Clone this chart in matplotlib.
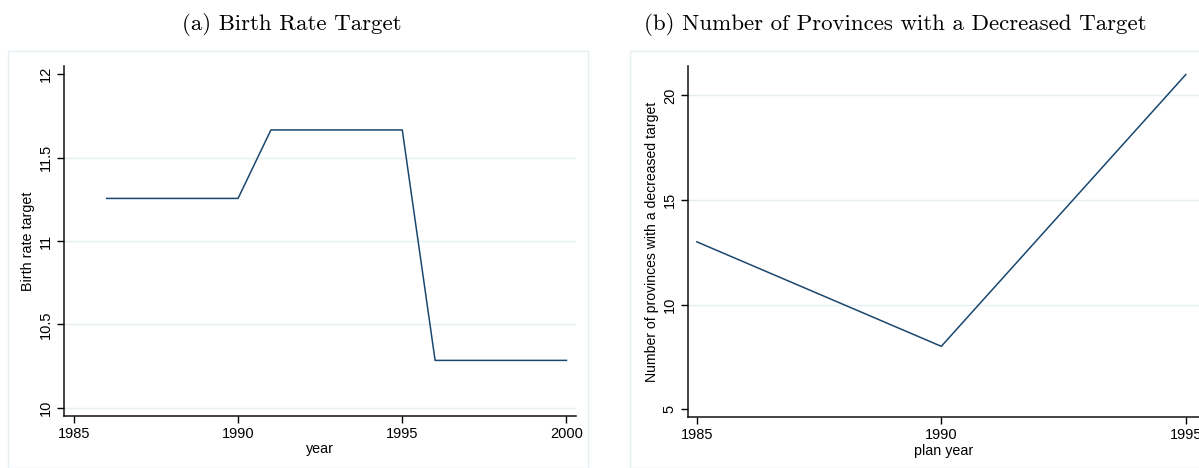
import matplotlib.pyplot as plt
from matplotlib.patches import Rectangle

# panel (a): birth rate target by year
years_a = [1986, 1987, 1988, 1989, 1990, 1991, 1992, 1993, 1994, 1995,
           1996, 1997, 1998, 1999, 2000]
birth_rate = [11.255, 11.255, 11.255, 11.255, 11.255,
              11.665, 11.665, 11.665, 11.665, 11.665,
              10.285, 10.285, 10.285, 10.285, 10.285]
yticks_a = [10, 10.5, 11, 11.5, 12]
ylabels_a = ['10', '10.5', '11', '11.5', '12']
grid_a = [10, 10.5, 11, 11.5]
xticks_a = [1985, 1990, 1995, 2000]

# panel (b): number of provinces with a decreased target
years_b = [1985, 1990, 1995]
n_prov = [13, 8, 21]
yticks_b = [5, 10, 15, 20]
grid_b = [10, 15, 20]
xticks_b = [1985, 1990, 1995]

navy = '#1a476f'
gridc = '#e6eff1'
W, H = 1199, 468

plt.rcParams['font.family'] = ['Liberation Sans', 'DejaVu Sans']
fig = plt.figure(figsize=(W / 100, H / 100), dpi=100)

def px(x0, y0, x1, y1):
    return [x0 / W, 1 - y1 / H, (x1 - x0) / W, (y1 - y0) / H]

# light outer frames of each graph region
fig.patches.append(Rectangle((8 / W, 0), 580 / W, 1 - 51 / H, transform=fig.transFigure,
                             fill=False, edgecolor=gridc, linewidth=1))
fig.patches.append(Rectangle((630 / W, 0), 580 / W, 1 - 51 / H, transform=fig.transFigure,
                             fill=False, edgecolor=gridc, linewidth=1))

def style(ax):
    for s in ['top', 'right']:
        ax.spines[s].set_visible(False)
    for s in ['left', 'bottom']:
        ax.spines[s].set_linewidth(1.1)
        ax.spines[s].set_color('#111111')
    ax.tick_params(direction='out', length=5, width=1, labelsize=10.5, pad=3)
    ax.tick_params(axis='y', labelrotation=90)
    for t in ax.get_yticklabels():
        t.set_va('center')

ax1 = fig.add_axes(px(64, 66, 576, 416))
for g in grid_a:
    ax1.axhline(g, color=gridc, linewidth=1, zorder=0)
ax1.plot(years_a, birth_rate, color=navy, linewidth=1.1)
ax1.set_xlim(1984.7, 2000.29)
ax1.set_ylim(9.952, 12.048)
ax1.set_yticks(yticks_a)
ax1.set_yticklabels(ylabels_a)
ax1.set_xticks(xticks_a)
ax1.set_xlabel('year', fontsize=10.3, labelpad=1)
ax1.set_ylabel('Birth rate target', fontsize=10.3, labelpad=3)
style(ax1)

ax2 = fig.add_axes(px(688, 66, 1199, 417))
for g in grid_b:
    ax2.axhline(g, color=gridc, linewidth=1, zorder=0)
ax2.plot(years_b, n_prov, color=navy, linewidth=1.1)
ax2.set_xlim(1984.82, 1995.27)
ax2.set_ylim(4.62, 21.41)
ax2.set_yticks(yticks_b)
ax2.set_xticks(xticks_b)
ax2.set_xlabel('plan year', fontsize=10.3, labelpad=1)
ax2.set_ylabel('Number of provinces with a decreased target', fontsize=10.1, labelpad=3)
style(ax2)

fig.text(292 / W, 1 - 24 / H, '(a) Birth Rate Target', family='cmr10',
         fontsize=16.5, ha='center', va='center')
fig.text(895 / W, 1 - 24 / H, '(b) Number of Provinces with a Decreased Target',
         family='cmr10', fontsize=16.5, ha='center', va='center')

fig.savefig('out.png', dpi=100)
